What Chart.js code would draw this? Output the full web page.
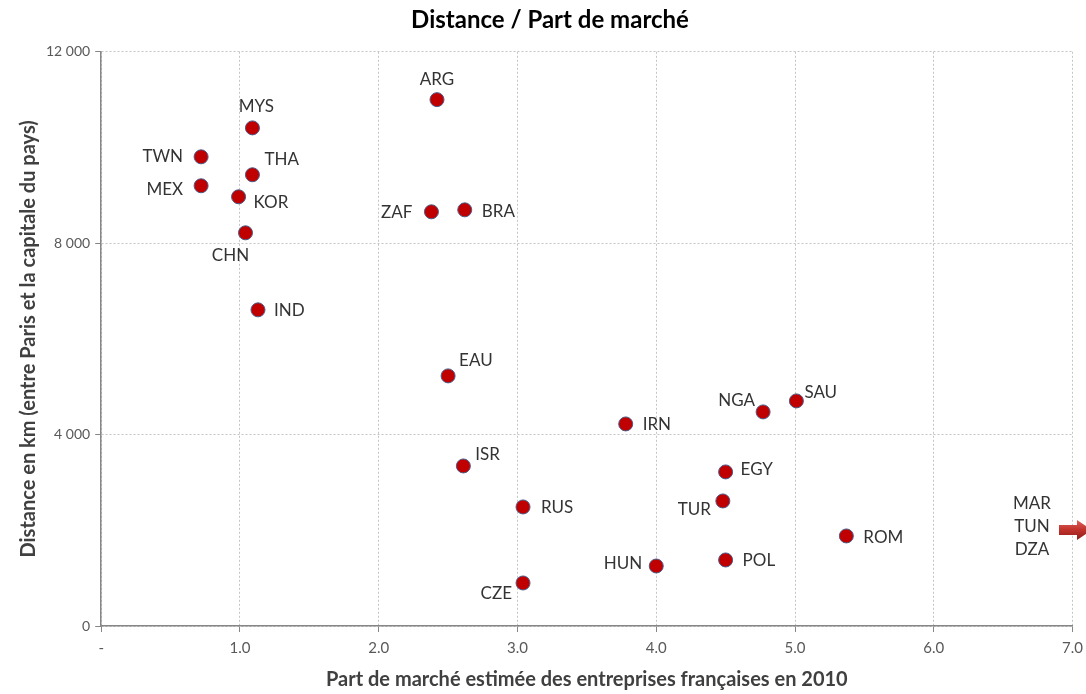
<!DOCTYPE html>
<html>
<head>
<meta charset="utf-8">
<script src="https://cdn.jsdelivr.net/npm/chart.js@4.4.1/dist/chart.umd.min.js"></script>
<style>
  html, body { margin: 0; background: #fff; overflow: hidden; }
  #wrap { width: 1086px; height: 694px; overflow: hidden; }
</style>
</head>
<body>
<div id="wrap"><canvas id="chart" width="1090" height="694"></canvas></div>
<script>
// Data
const countries = ['ARG', 'MYS', 'TWN', 'THA', 'MEX', 'KOR', 'ZAF', 'BRA', 'CHN', 'IND', 'EAU',
    'SAU', 'NGA', 'IRN', 'ISR', 'EGY', 'TUR', 'RUS', 'ROM', 'POL', 'HUN', 'CZE'];
const marketShare = [2.42, 1.09, 0.72, 1.09, 0.72, 0.99, 2.38, 2.62, 1.04, 1.13, 2.50,
    5.01, 4.77, 3.78, 2.61, 4.50, 4.48, 3.04, 5.37, 4.50, 4.00, 3.04];
const distanceKm = [11000, 10410, 9805, 9430, 9200, 8970, 8656, 8697, 8217, 6607, 5227,
    4704, 4474, 4223, 3345, 3220, 2613, 2488, 1882, 1380, 1254, 899];
const offChartLabels = ['MAR', 'TUN', 'DZA'];
const xTicks = [0, 1, 2, 3, 4, 5, 6, 7];
const yTicks = [0, 4000, 8000, 12000];

// Label placement next to each point: [dx, dy, align]
const labelPos = [
    [0, -20, 'center'], [4, -21, 'center'], [-18, 0, 'right'], [12, -15, 'left'],
    [-18, 4, 'right'], [15, 6, 'left'], [-19, 1, 'right'], [17, 2, 'left'],
    [-15, 23, 'center'], [16, 1, 'left'], [11, -15, 'left'], [8, -8, 'left'],
    [-8, -11, 'right'], [17, 1, 'left'], [12, -11, 'left'], [15, -2, 'left'],
    [-12, 9, 'right'], [18, 1, 'left'], [17, 2, 'left'], [17, 1, 'left'],
    [-14, -2, 'right'], [-11, 11, 'right']
];

const FONT = 'Lato, "Open Sans", sans-serif';

const points = marketShare.map((x, i) => ({ x: x, y: distanceKm[i] }));

// Draw country codes and the off-chart arrow
const labelPlugin = {
    id: 'labels',
    afterDatasetsDraw(chart) {
        const ctx = chart.ctx;
        const meta = chart.getDatasetMeta(0);
        ctx.save();
        ctx.font = '17px ' + FONT;
        ctx.fillStyle = '#333';
        ctx.textBaseline = 'middle';
        meta.data.forEach((el, i) => {
            const p = labelPos[i];
            ctx.textAlign = p[2];
            ctx.fillText(countries[i], el.x + p[0], el.y + p[1]);
        });

        // off-chart countries
        ctx.textAlign = 'center';
        offChartLabels.forEach((t, i) => {
            ctx.fillText(t, 1032, 504 + i * 23);
        });

        // arrow pointing right
        const ay = 530;
        const grad = ctx.createLinearGradient(0, ay - 10, 0, ay + 10);
        grad.addColorStop(0, '#e0605a');
        grad.addColorStop(0.5, '#c0312b');
        grad.addColorStop(1, '#8e1c18');
        ctx.fillStyle = grad;
        ctx.beginPath();
        ctx.moveTo(1059, ay - 5);
        ctx.lineTo(1077, ay - 5);
        ctx.lineTo(1077, ay - 10);
        ctx.lineTo(1092, ay);
        ctx.lineTo(1077, ay + 10);
        ctx.lineTo(1077, ay + 5);
        ctx.lineTo(1059, ay + 5);
        ctx.closePath();
        ctx.fill();
        ctx.restore();
    }
};

new Chart(document.getElementById('chart'), {
    type: 'scatter',
    data: {
        datasets: [{
            label: 'Pays',
            data: points,
            backgroundColor: '#c00000',
            borderColor: '#4a5a86',
            borderWidth: 1,
            pointRadius: 7,
            pointHoverRadius: 7
        }]
    },
    options: {
        responsive: false,
        animation: false,
        layout: { padding: { left: 17, right: 7, top: 0, bottom: 2 } },
        plugins: {
            legend: { display: false },
            tooltip: { enabled: false },
            title: {
                display: true,
                text: 'Distance / Part de marché',
                color: '#000',
                font: { family: FONT, size: 24, weight: 'bold' },
                padding: { top: 6, bottom: 17 }
            }
        },
        scales: {
            x: {
                type: 'linear',
                min: 0,
                max: 7,
                afterBuildTicks: axis => { axis.ticks = xTicks.map(v => ({ value: v })); },
                ticks: {
                    color: '#595959',
                    font: { family: FONT, size: 15 },
                    padding: 7,
                    callback: v => v === 0 ? '-' : v.toFixed(1)
                },
                grid: {
                    color: '#c4c4c4',
                    tickColor: '#868686',
                    tickBorderDash: [],
                    tickLength: 6
                },
                border: { color: '#868686', width: 1.5, dash: [2, 2] },
                title: {
                    display: true,
                    text: 'Part de marché estimée des entreprises françaises en 2010',
                    color: '#404040',
                    font: { family: FONT, size: 20, weight: 'bold' },
                    padding: { top: 4, bottom: 0 }
                }
            },
            y: {
                type: 'linear',
                min: 0,
                max: 12000,
                afterBuildTicks: axis => { axis.ticks = yTicks.map(v => ({ value: v })); },
                ticks: {
                    color: '#595959',
                    font: { family: FONT, size: 14 },
                    padding: 5,
                    callback: v => v.toLocaleString('fr-FR').replace(/\s/g, ' ')
                },
                grid: {
                    color: '#c4c4c4',
                    tickColor: '#868686',
                    tickBorderDash: [],
                    tickLength: 6
                },
                border: { color: '#868686', width: 1.5, dash: [2, 2] },
                title: {
                    display: true,
                    text: 'Distance en km (entre Paris et la capitale du pays)',
                    color: '#404040',
                    font: { family: FONT, size: 20, weight: 'bold' },
                    padding: { top: 0, bottom: 0 }
                }
            }
        }
    },
    plugins: [labelPlugin]
});
</script>
</body>
</html>
